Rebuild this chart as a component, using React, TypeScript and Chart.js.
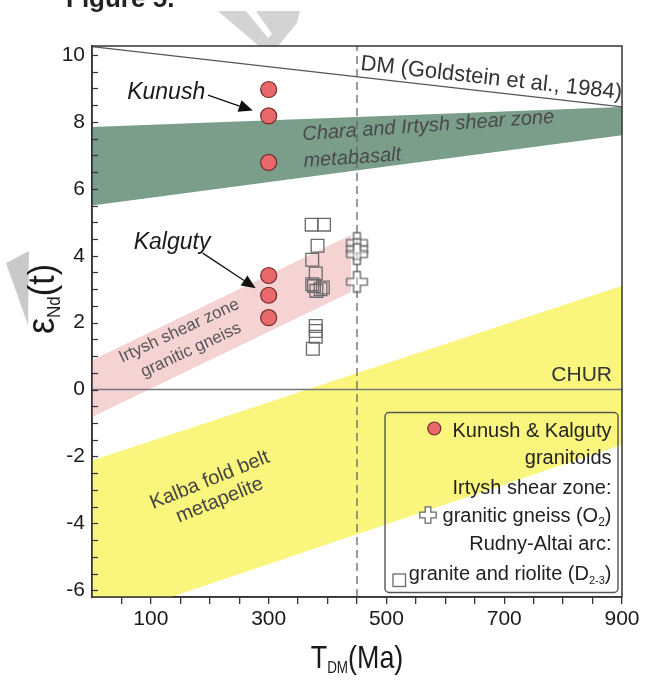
import React, { useEffect, useRef } from 'react';
import { Chart, registerables } from 'chart.js';
Chart.register(...registerables);

// ---------- data ----------
const KK_T = [300, 300, 300, 300, 300, 300];
const KK_EPS = [8.97, 8.18, 6.79, 3.41, 2.82, 2.15];

const IRT_T = [450, 450, 450, 450];
const IRT_EPS = [4.38, 4.2, 4.05, 3.22];

const RA_T = [373, 394, 383, 374, 380, 374, 388, 381, 392, 377, 380, 380, 380, 375];
const RA_EPS = [4.93, 4.93, 4.3, 3.88, 3.47, 3.15, 3.0, 2.95, 3.05, 3.1, 1.9, 1.75, 1.58, 1.22];

const BAND_T = [0, 900];
const DM_EPS = [10.25, 8.45];
const GREEN_TOP = [7.85, 8.45];
const GREEN_BOT = [5.5, 7.6];
const YELLOW_TOP = [-2.12, 3.1];
const YELLOW_BOT = [-7.0, -1.65];
const PINK_T = [0, 440];
const PINK_TOP = [0.88, 4.62];
const PINK_BOT = [-0.82, 2.92];

const CHUR_EPS = 0;
const DASH_T = 450;

const X_MIN = 0, X_MAX = 900;
const Y_MIN = -6.2, Y_MAX = 10.27;
const X_TICKS = [50, 100, 150, 200, 250, 300, 350, 400, 450, 500, 550, 600, 650, 700, 750, 800, 850, 900];
const X_LABELS = [100, 300, 500, 700, 900];
const Y_LABELS = [-6, -4, -2, 0, 2, 4, 6, 8, 10];
const Y_MINOR = [-6, -5.5, -5, -4.5, -4, -3.5, -3, -2.5, -2, -1.5, -1, -0.5, 0, 0.5, 1, 1.5, 2, 2.5, 3, 3.5, 4, 4.5, 5, 5.5, 6, 6.5, 7, 7.5, 8, 8.5, 9, 9.5, 10];

// ---------- styles ----------
const FAM = "'Liberation Sans', Arial, Helvetica, sans-serif";
const C_GREEN = 'rgb(122,158,138)';
const C_PINK = 'rgb(245,211,211)';
const C_YELLOW = 'rgb(250,246,125)';
const C_RED = 'rgb(233,104,108)';
const C_RED_EDGE = 'rgb(112,42,42)';
const C_GREY = '#6a6a6a';

// annotation anchors in data units (Ma, eps)
const ANN = {
  kunush: { t: 126, e: 8.89 },
  kunushArrow: { t0: 197, e0: 8.8, t1: 273, e1: 8.34 },
  kalguty: { t: 136, e: 4.38 },
  kalgutyArrow: { t0: 188, e0: 4.08, t1: 278, e1: 3.03 },
  dm: { t: 678, e: 9.3, rot: 6.4 },
  chara: { t: 571, e: 7.88, rot: -4 },
  metabasalt: { t: 442, e: 6.92, rot: -4 },
  irtysh1: { t: 148, e: 1.75, rot: -25 },
  irtysh2: { t: 168, e: 1.18, rot: -25 },
  kalba1: { t: 200, e: -2.71, rot: -22 },
  kalba2: { t: 217, e: -3.31, rot: -22 },
  chur: { t: 883, e: 0.43 },
};

function font(size: number, italic = false, bold = false) {
  return `${italic ? 'italic ' : ''}${bold ? 'bold ' : ''}${size}px ${FAM}`;
}

type Part = { t: string; size: number; dy?: number };

function rich(ctx: CanvasRenderingContext2D, parts: Part[], x: number, y: number, o: any = {}) {
  const { align = 'center', rot = 0, sx = 1, color = '#222', italic = false, bold = false, baseline = 'alphabetic' } = o;
  ctx.save();
  ctx.translate(x, y);
  ctx.rotate((rot * Math.PI) / 180);
  ctx.scale(sx, 1);
  ctx.fillStyle = color;
  ctx.textAlign = 'left';
  ctx.textBaseline = baseline;
  let total = 0;
  const ws = parts.map((p) => {
    ctx.font = font(p.size, italic, bold);
    const w = ctx.measureText(p.t).width;
    total += w;
    return w;
  });
  let cx = align === 'center' ? -total / 2 : align === 'right' ? -total : 0;
  parts.forEach((p, i) => {
    ctx.font = font(p.size, italic, bold);
    ctx.fillText(p.t, cx, p.dy || 0);
    cx += ws[i];
  });
  ctx.restore();
}

function arrow(ctx: CanvasRenderingContext2D, x1: number, y1: number, x2: number, y2: number) {
  const a = Math.atan2(y2 - y1, x2 - x1);
  const hl = 14, hw = 6;
  const bx = x2 - hl * Math.cos(a), by = y2 - hl * Math.sin(a);
  ctx.save();
  ctx.strokeStyle = '#111';
  ctx.fillStyle = '#111';
  ctx.lineWidth = 1.3;
  ctx.beginPath();
  ctx.moveTo(x1, y1);
  ctx.lineTo(bx, by);
  ctx.stroke();
  ctx.beginPath();
  ctx.moveTo(x2, y2);
  ctx.lineTo(bx - hw * Math.sin(a), by + hw * Math.cos(a));
  ctx.lineTo(bx + hw * Math.sin(a), by - hw * Math.cos(a));
  ctx.closePath();
  ctx.fill();
  ctx.restore();
}

function crossPath(g: CanvasRenderingContext2D, cx: number, cy: number, a: number, b: number) {
  const pts = [[-b, -a], [b, -a], [b, -b], [a, -b], [a, b], [b, b], [b, a], [-b, a], [-b, b], [-a, b], [-a, -b], [-b, -b]];
  g.beginPath();
  pts.forEach(([x, y], i) => (i ? g.lineTo(cx + x, cy + y) : g.moveTo(cx + x, cy + y)));
  g.closePath();
}

function makeCross(): HTMLCanvasElement {
  const c = document.createElement('canvas');
  c.width = 25;
  c.height = 25;
  const g = c.getContext('2d')!;
  crossPath(g, 12.5, 12.5, 10.3, 3.4);
  g.fillStyle = 'rgba(255,255,255,0.35)';
  g.fill();
  g.strokeStyle = C_GREY;
  g.lineWidth = 1.4;
  g.stroke();
  return c;
}

const pts = (ts: number[], es: number[]) => ts.map((t, i) => ({ x: t, y: es[i] }));

const decor = {
  id: 'decor',
  beforeDraw(chart: any) {
    const ctx = chart.ctx as CanvasRenderingContext2D;
    ctx.save();
    ctx.fillStyle = '#fff';
    ctx.fillRect(0, 0, chart.width, chart.height);
    // faint watermark fragments
    ctx.fillStyle = '#d3d3d3';
    ctx.beginPath();
    ctx.moveTo(218, 11);
    ctx.lineTo(300, 11);
    ctx.lineTo(297, 23);
    ctx.lineTo(278, 46);
    ctx.lineTo(259, 46);
    ctx.closePath();
    ctx.fill();
    ctx.fillStyle = '#fff';
    ctx.beginPath();
    ctx.moveTo(246, 11);
    ctx.lineTo(256, 11);
    ctx.lineTo(272, 34);
    ctx.lineTo(268, 38);
    ctx.closePath();
    ctx.fill();
    ctx.fillStyle = '#c9c9c9';
    ctx.beginPath();
    ctx.moveTo(6, 263);
    ctx.lineTo(29, 251);
    ctx.lineTo(28, 325);
    ctx.closePath();
    ctx.fill();
    // figure caption (cut off at top)
    rich(ctx, [{ t: 'Figure 5.', size: 26 }], 66, 7, { align: 'left', bold: true, color: '#222' });
    ctx.restore();
  },
  afterDatasetsDraw(chart: any) {
    const ctx = chart.ctx as CanvasRenderingContext2D;
    const xs = chart.scales.x, ys = chart.scales.y;
    const ca = chart.chartArea;
    const X = (t: number) => xs.getPixelForValue(t);
    const Y = (e: number) => ys.getPixelForValue(e);

    // annotations
    rich(ctx, [{ t: 'Kunush', size: 23 }], X(ANN.kunush.t), Y(ANN.kunush.e), { italic: true, baseline: 'middle', color: '#1a1a1a' });
    rich(ctx, [{ t: 'Kalguty', size: 23 }], X(ANN.kalguty.t), Y(ANN.kalguty.e), { italic: true, baseline: 'middle', color: '#1a1a1a' });
    arrow(ctx, X(ANN.kunushArrow.t0), Y(ANN.kunushArrow.e0), X(ANN.kunushArrow.t1), Y(ANN.kunushArrow.e1));
    arrow(ctx, X(ANN.kalgutyArrow.t0), Y(ANN.kalgutyArrow.e0), X(ANN.kalgutyArrow.t1), Y(ANN.kalgutyArrow.e1));
    rich(ctx, [{ t: 'DM (Goldstein et al., 1984)', size: 22 }], X(ANN.dm.t), Y(ANN.dm.e), { rot: ANN.dm.rot, baseline: 'middle', color: '#333' });
    rich(ctx, [{ t: 'Chara and Irtysh shear zone', size: 20 }], X(ANN.chara.t), Y(ANN.chara.e), { rot: ANN.chara.rot, baseline: 'middle', italic: true, color: '#4a4a4a' });
    rich(ctx, [{ t: 'metabasalt', size: 20 }], X(ANN.metabasalt.t), Y(ANN.metabasalt.e), { rot: ANN.metabasalt.rot, baseline: 'middle', italic: true, color: '#4a4a4a' });
    rich(ctx, [{ t: 'Irtysh shear zone', size: 17 }], X(ANN.irtysh1.t), Y(ANN.irtysh1.e), { rot: ANN.irtysh1.rot, baseline: 'middle', color: '#555' });
    rich(ctx, [{ t: 'granitic gneiss', size: 17 }], X(ANN.irtysh2.t), Y(ANN.irtysh2.e), { rot: ANN.irtysh2.rot, baseline: 'middle', color: '#555' });
    rich(ctx, [{ t: 'Kalba fold belt', size: 20 }], X(ANN.kalba1.t), Y(ANN.kalba1.e), { rot: ANN.kalba1.rot, baseline: 'middle', color: '#444' });
    rich(ctx, [{ t: 'metapelite', size: 20 }], X(ANN.kalba2.t), Y(ANN.kalba2.e), { rot: ANN.kalba2.rot, baseline: 'middle', color: '#444' });
    rich(ctx, [{ t: 'CHUR', size: 21 }], X(ANN.chur.t), Y(ANN.chur.e), { align: 'right', baseline: 'middle', color: '#333' });

    // inward y ticks
    ctx.save();
    ctx.strokeStyle = '#333';
    ctx.lineWidth = 1.2;
    Y_MINOR.forEach((v) => {
      const py = Math.round(Y(v)) + 0.5;
      ctx.beginPath();
      ctx.moveTo(ca.left, py);
      ctx.lineTo(ca.left + 6, py);
      ctx.stroke();
    });
    // frame
    ctx.lineWidth = 1.5;
    ctx.strokeRect(ca.left, ca.top, ca.right - ca.left, ca.bottom - ca.top);
    ctx.restore();
  },
  afterDraw(chart: any) {
    const ctx = chart.ctx as CanvasRenderingContext2D;
    const ca = chart.chartArea;
    const xs = chart.scales.x;
    // axis titles
    rich(ctx, [{ t: 'T', size: 32 }, { t: 'DM', size: 16, dy: 5 }, { t: '(Ma)', size: 32 }], xs.getPixelForValue(450), 668, { sx: 0.84, color: '#1a1a1a' });
    rich(ctx, [{ t: 'ε', size: 38 }, { t: 'Nd', size: 18, dy: 6 }, { t: '(t)', size: 36 }], 54, 299, { rot: -90, sx: 0.95, color: '#1a1a1a' });

    // legend box
    const L = { left: ca.left + 293, top: ca.bottom - 184.5, right: ca.right - 4, bottom: ca.bottom - 4.5 };
    ctx.save();
    ctx.strokeStyle = '#555';
    ctx.lineWidth = 1.4;
    ctx.beginPath();
    (ctx as any).roundRect(L.left, L.top, L.right - L.left, L.bottom - L.top, 4);
    ctx.stroke();
    const rx = L.right - 6.5;
    const by = L.top;
    const o = { align: 'right', color: '#222' };
    rich(ctx, [{ t: 'Kunush & Kalguty', size: 20 }], rx, by + 24, o);
    rich(ctx, [{ t: 'granitoids', size: 20 }], rx, by + 51, o);
    rich(ctx, [{ t: 'Irtysh shear zone:', size: 20 }], rx, by + 81.5, o);
    rich(ctx, [{ t: 'granitic gneiss (O', size: 20 }, { t: '2', size: 12, dy: 4 }, { t: ')', size: 20 }], rx, by + 109, o);
    rich(ctx, [{ t: 'Rudny-Altai arc:', size: 20 }], rx, by + 137.5, o);
    rich(ctx, [{ t: 'granite and riolite (D', size: 20 }, { t: '2-3', size: 11, dy: 4 }, { t: ')', size: 20 }], rx, by + 167.5, o);
    // icons
    ctx.fillStyle = C_RED;
    ctx.strokeStyle = C_RED_EDGE;
    ctx.lineWidth = 1.2;
    ctx.beginPath();
    ctx.arc(L.left + 49.3, by + 16, 6.5, 0, Math.PI * 2);
    ctx.fill();
    ctx.stroke();
    crossPath(ctx, L.left + 43, by + 102.5, 8.2, 2.8);
    ctx.fillStyle = '#fff';
    ctx.fill();
    ctx.strokeStyle = C_GREY;
    ctx.lineWidth = 1.3;
    ctx.stroke();
    ctx.strokeRect(L.left + 8, by + 161.5, 12.5, 12.5);
    ctx.restore();
  },
};

export default function App() {
  const ref = useRef<HTMLCanvasElement>(null);
  useEffect(() => {
    const crossImg = makeCross();
    const chart = new Chart(ref.current as HTMLCanvasElement, {
      type: 'line',
      data: {
        datasets: [
          { label: 'Kunush & Kalguty granitoids', data: pts(KK_T, KK_EPS), showLine: false, pointStyle: 'circle', pointRadius: 8, backgroundColor: C_RED, borderColor: C_RED_EDGE, borderWidth: 1.2 },
          { label: 'Irtysh granitic gneiss', data: pts(IRT_T, IRT_EPS), showLine: false, pointStyle: crossImg, pointRadius: 10 },
          { label: 'Rudny-Altai granite and riolite', data: pts(RA_T, RA_EPS), showLine: false, pointStyle: 'rect', pointRadius: 9, backgroundColor: 'rgba(0,0,0,0)', borderColor: C_GREY, borderWidth: 1.3 },
          { label: 'DM', data: pts(BAND_T, DM_EPS), borderColor: '#555', borderWidth: 1.3, pointRadius: 0, fill: false },
          { label: 'CHUR', data: pts(BAND_T, [CHUR_EPS, CHUR_EPS]), borderColor: '#777', borderWidth: 1.5, pointRadius: 0, fill: false },
          { label: 'dash', data: pts([DASH_T, DASH_T], [Y_MIN, Y_MAX]), borderColor: '#666', borderWidth: 1.3, borderDash: [8, 5], pointRadius: 0, fill: false },
          { label: 'green top', data: pts(BAND_T, GREEN_TOP), borderWidth: 0, pointRadius: 0, fill: '+1', backgroundColor: C_GREEN },
          { label: 'green bot', data: pts(BAND_T, GREEN_BOT), borderWidth: 0, pointRadius: 0, fill: false },
          { label: 'pink top', data: pts(PINK_T, PINK_TOP), borderWidth: 0, pointRadius: 0, fill: '+1', backgroundColor: C_PINK },
          { label: 'pink bot', data: pts(PINK_T, PINK_BOT), borderWidth: 0, pointRadius: 0, fill: false },
          { label: 'yellow top', data: pts(BAND_T, YELLOW_TOP), borderWidth: 0, pointRadius: 0, fill: '+1', backgroundColor: C_YELLOW },
          { label: 'yellow bot', data: pts(BAND_T, YELLOW_BOT), borderWidth: 0, pointRadius: 0, fill: false },
        ] as any,
      },
      options: {
        animation: false,
        responsive: false,
        devicePixelRatio: 1,
        events: [],
        layout: { padding: { left: 0, top: 46, right: 23, bottom: 0 } },
        plugins: { legend: { display: false }, tooltip: { enabled: false }, title: { display: false } },
        scales: {
          x: {
            type: 'linear',
            min: X_MIN,
            max: X_MAX,
            afterBuildTicks: (s: any) => { s.ticks = X_TICKS.map((v) => ({ value: v })); },
            afterFit: (s: any) => { s.height = 90; },
            grid: { display: true, drawOnChartArea: false, drawTicks: true, tickLength: 7, color: '#333', lineWidth: 1.3 },
            border: { display: true, color: '#333', width: 1.5 },
            ticks: { autoSkip: false, maxRotation: 0, padding: 3, color: '#1a1a1a', font: { family: FAM, size: 21 }, callback: (v: any) => (X_LABELS.includes(Number(v)) ? String(v) : '') },
          },
          y: {
            type: 'linear',
            min: Y_MIN,
            max: Y_MAX,
            afterBuildTicks: (s: any) => { s.ticks = Y_LABELS.map((v) => ({ value: v })); },
            afterFit: (s: any) => { s.width = 92; },
            grid: { display: false, drawTicks: false },
            border: { display: true, color: '#333', width: 1.5 },
            ticks: { padding: 7, color: '#1a1a1a', font: { family: FAM, size: 21 }, callback: (v: any) => String(v) },
          },
        },
      } as any,
      plugins: [decor],
    });
    return () => chart.destroy();
  }, []);
  return (
    <div style={{ position: 'fixed', left: 0, top: 0, width: 645, height: 687, background: '#fff' }}>
      <canvas ref={ref} width={645} height={687} style={{ width: 645, height: 687, display: 'block' }} />
    </div>
  );
}
